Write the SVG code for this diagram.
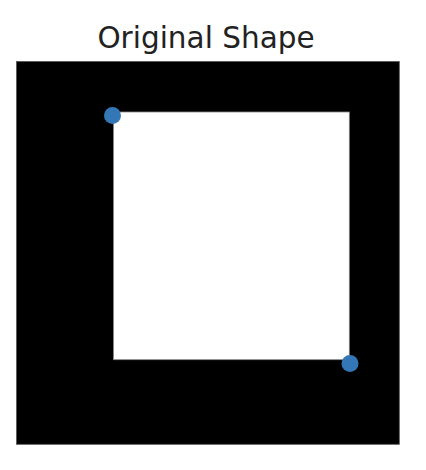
<svg xmlns="http://www.w3.org/2000/svg" width="426" height="470" viewBox="0 0 426 470">
  <style>
    .title { font-family: "DejaVu Sans", sans-serif; font-size: 29.5px; fill: #222; }
    .pt { fill: #3477b6; }
  </style>
  <rect width="426" height="470" fill="#ffffff"/>
  <text class="title" x="206" y="48" text-anchor="middle">Original Shape</text>
  <g id="image">
    <rect x="16.5" y="61.5" width="382.8" height="382.8" fill="#000000" stroke="#555" stroke-width="0.8"/>
    <rect x="113.5" y="112" width="235.8" height="247.7" fill="#ffffff" stroke="#888" stroke-width="0.8"/>
  </g>
  <g id="points">
    <circle class="pt" cx="112.5" cy="115.5" r="8.5"/>
    <circle class="pt" cx="350" cy="363.5" r="8.5"/>
  </g>
</svg>
